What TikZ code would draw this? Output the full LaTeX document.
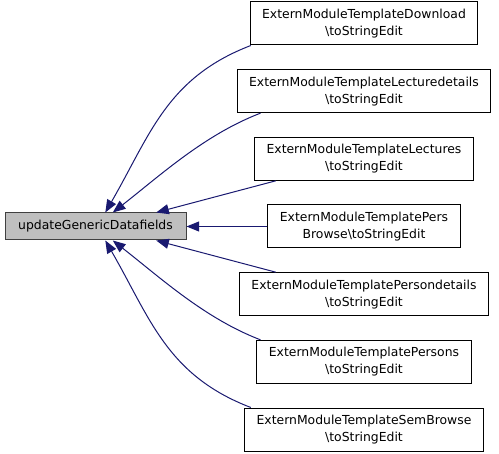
\documentclass[tikz,border=0pt]{standalone}
\usepackage{fontspec}
\setmainfont{DejaVu Sans}
\usepackage{tikz}
\usetikzlibrary{arrows.meta,positioning}
\definecolor{edgeblue}{HTML}{191970}
\definecolor{focusgray}{HTML}{BFBFBF}
\tikzset{
  callerbox/.style={draw=black, fill=white, line width=0.75pt, minimum height=32.25pt, inner xsep=9pt, font=\fontsize{9.3}{12.75}\selectfont, align=center},
  focusbox/.style={draw=black!75, fill=focusgray, line width=0.75pt, minimum height=20.25pt, minimum width=135.75pt, font=\fontsize{9.3}{12}\selectfont},
  callarrow/.style={-{Triangle[length=9.5pt,width=7.5pt]}, draw=edgeblue, line width=0.75pt},
}

\begin{document}
\begin{tikzpicture}[x=0.75pt, y=0.75pt, node distance=17.75pt]
  \useasboundingbox (0,0) rectangle (499,453);

  % Function of interest
  \node[focusbox] (upd) at (95.5,226.5) {updateGenericDatafields};

  % Callers
  \node[callerbox] (pb) at (364,226.5) {ExternModuleTemplatePers\\Browse\textbackslash toStringEdit};
  \node[callerbox, above=of pb] (lec) {ExternModuleTemplateLectures\\\textbackslash toStringEdit};
  \node[callerbox, above=of lec] (ld) {ExternModuleTemplateLecturedetails\\\textbackslash toStringEdit};
  \node[callerbox, above=of ld] (dl) {ExternModuleTemplateDownload\\\textbackslash toStringEdit};
  \node[callerbox, below=of pb] (pd) {ExternModuleTemplatePersondetails\\\textbackslash toStringEdit};
  \node[callerbox, below=of pd] (ps) {ExternModuleTemplatePersons\\\textbackslash toStringEdit};
  \node[callerbox, below=of ps] (sb) {ExternModuleTemplateSemBrowse\\\textbackslash toStringEdit};

  \draw[callarrow] (dl.191) .. controls +(201:90) and +(60:90) .. (upd.55);
  \draw[callarrow] (ld.192) .. controls +(201:60) and +(38:60) .. (upd.39);
  \draw[callarrow] (lec.194) -- (upd.13);
  \draw[callarrow] (pb.west) -- (upd.east);
  \draw[callarrow] (pd.166) -- (upd.-13);
  \draw[callarrow] (ps.168) .. controls +(159:60) and +(-38:60) .. (upd.-39);
  \draw[callarrow] (sb.169) .. controls +(159:90) and +(-60:90) .. (upd.-55);
\end{tikzpicture}
\end{document}
